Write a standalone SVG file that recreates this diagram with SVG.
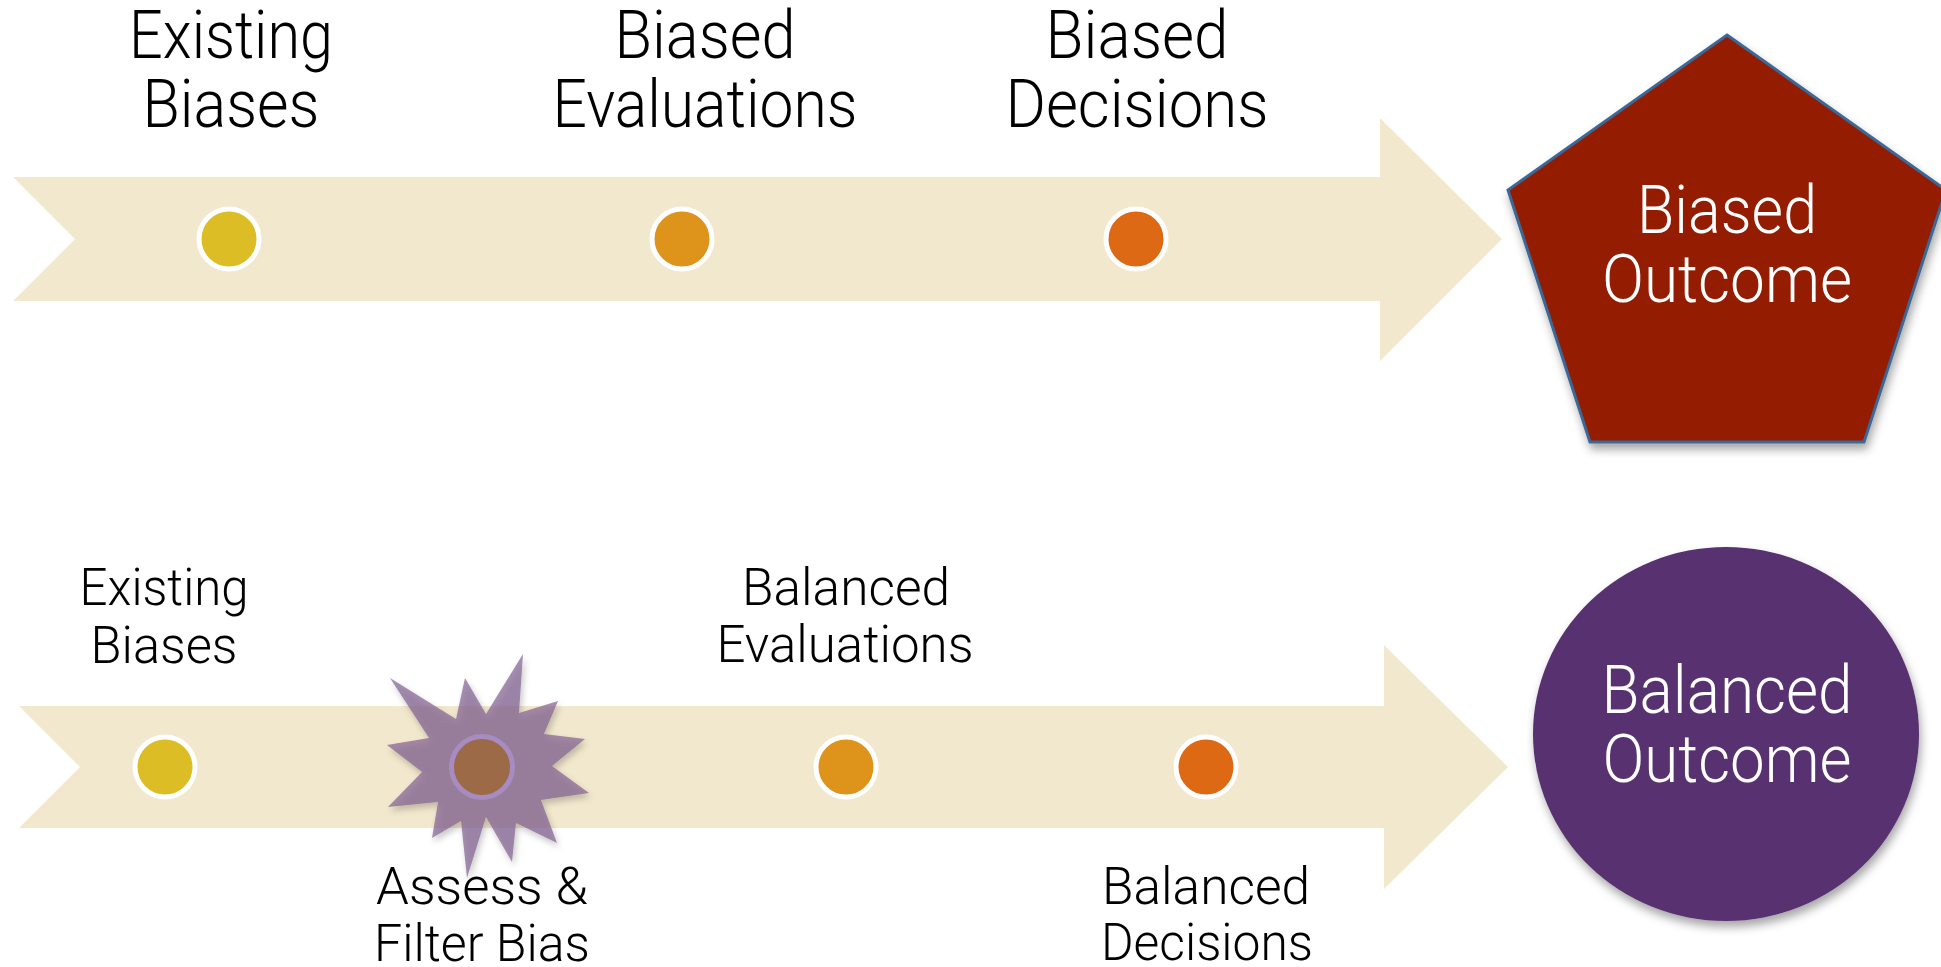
<svg xmlns="http://www.w3.org/2000/svg" width="1941" height="967" viewBox="0 0 1941 967">
  <defs>
    <style>
      .band { fill: #F2E8CE; }
      .lbl { font-family: Roboto, "Liberation Sans", Arial, sans-serif; font-weight: 300; fill: #000; text-anchor: middle; }
      .big { font-size: 66px; }
      .small { font-size: 52px; }
      .white { fill: #FFFFFF; }
      .dot { stroke: #FFFFFF; stroke-width: 5; }
      .y { fill: #DDBD26; }
      .o { fill: #DE931A; }
      .r { fill: #DD6914; }
    </style>
    <filter id="shadow" x="-20%" y="-20%" width="140%" height="140%">
      <feDropShadow dx="2" dy="6" stdDeviation="5" flood-color="#000" flood-opacity="0.35"/>
    </filter>
    <filter id="starShadow" x="-20%" y="-20%" width="140%" height="140%">
      <feDropShadow dx="2" dy="4" stdDeviation="3" flood-color="#000" flood-opacity="0.3"/>
    </filter>
  </defs>

  <rect width="1941" height="967" fill="#FFFFFF"/>

  <!-- timeline arrows -->
  <g id="connectors">
    <path id="arrow-top" class="band" d="M13,177 L1380,177 L1380,118 L1502,239 L1380,361 L1380,301 L13,301 L75,239 Z"/>
    <path id="arrow-bottom" class="band" d="M19,706 L1384,706 L1384,645 L1508,767 L1384,889 L1384,828 L19,828 L80,767 Z"/>
  </g>

  <!-- upper path -->
  <g id="top-existing">
    <circle class="dot y" cx="229" cy="239" r="30"/>
    <text class="lbl big"><tspan x="231" y="58" textLength="204" lengthAdjust="spacingAndGlyphs">Existing</tspan><tspan x="231" y="127" textLength="177" lengthAdjust="spacingAndGlyphs">Biases</tspan></text>
  </g>
  <g id="top-evaluations">
    <circle class="dot o" cx="682" cy="239" r="30"/>
    <text class="lbl big"><tspan x="705" y="58" textLength="181" lengthAdjust="spacingAndGlyphs">Biased</tspan><tspan x="705" y="127" textLength="305" lengthAdjust="spacingAndGlyphs">Evaluations</tspan></text>
  </g>
  <g id="top-decisions">
    <circle class="dot r" cx="1136" cy="239" r="30"/>
    <text class="lbl big"><tspan x="1137" y="58" textLength="183" lengthAdjust="spacingAndGlyphs">Biased</tspan><tspan x="1137" y="127" textLength="263" lengthAdjust="spacingAndGlyphs">Decisions</tspan></text>
  </g>
  <g id="biased-outcome">
    <polygon points="1727,35 1946,190 1864,442 1590,442 1508,190" fill="#941C03" stroke="#3A6796" stroke-width="3" stroke-linejoin="miter" filter="url(#shadow)"/>
    <text class="lbl big white"><tspan x="1727" y="233" textLength="180" lengthAdjust="spacingAndGlyphs">Biased</tspan><tspan x="1727" y="302" textLength="250" lengthAdjust="spacingAndGlyphs">Outcome</tspan></text>
  </g>

  <!-- lower path -->
  <g id="bottom-existing">
    <circle class="dot y" cx="165" cy="767" r="30"/>
    <text class="lbl small"><tspan x="164" y="605" textLength="169" lengthAdjust="spacingAndGlyphs">Existing</tspan><tspan x="164" y="663" textLength="147" lengthAdjust="spacingAndGlyphs">Biases</tspan></text>
  </g>
  <g id="assess-filter">
    <polygon points="390,678 456,719 465,678 486,714 523,654 519,713 558,701 544,734 585,739 552,766 589,793 541,800 557,843 516,823 512,862 486,817 467,878 461,821 432,838 438,802 388,807 422,772 387,745 429,738" fill="#806090" fill-opacity="0.7" filter="url(#starShadow)"/>
    <circle cx="482" cy="767" r="30.5" fill="#9C6A47" stroke="#A68CC0" stroke-width="5"/>
    <text class="lbl small"><tspan x="482" y="904" textLength="212" lengthAdjust="spacingAndGlyphs">Assess &amp;</tspan><tspan x="482" y="961" textLength="216" lengthAdjust="spacingAndGlyphs">Filter Bias</tspan></text>
  </g>
  <g id="bottom-evaluations">
    <circle class="dot o" cx="846" cy="767" r="30"/>
    <text class="lbl small"><tspan x="846" y="605" textLength="208" lengthAdjust="spacingAndGlyphs">Balanced</tspan><tspan x="845" y="662" textLength="257" lengthAdjust="spacingAndGlyphs">Evaluations</tspan></text>
  </g>
  <g id="bottom-decisions">
    <circle class="dot r" cx="1206" cy="767" r="30"/>
    <text class="lbl small"><tspan x="1206" y="904" textLength="208" lengthAdjust="spacingAndGlyphs">Balanced</tspan><tspan x="1207" y="960" textLength="212" lengthAdjust="spacingAndGlyphs">Decisions</tspan></text>
  </g>
  <g id="balanced-outcome">
    <ellipse cx="1726" cy="734" rx="193" ry="187" fill="#58306F" filter="url(#shadow)"/>
    <text class="lbl big white"><tspan x="1727" y="713" textLength="251" lengthAdjust="spacingAndGlyphs">Balanced</tspan><tspan x="1727" y="782" textLength="249" lengthAdjust="spacingAndGlyphs">Outcome</tspan></text>
  </g>
</svg>
